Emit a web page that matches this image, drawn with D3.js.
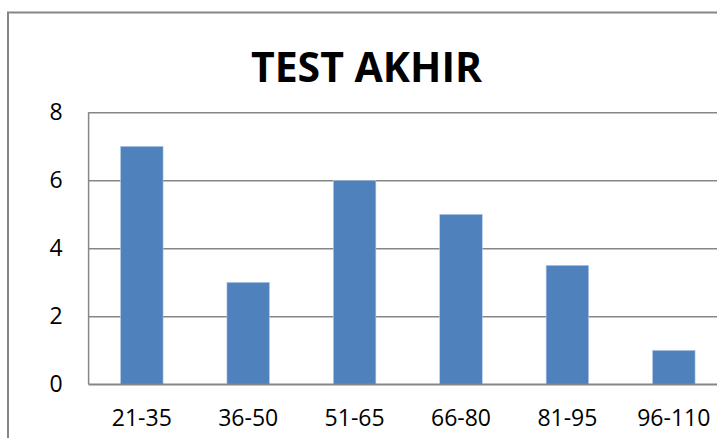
<!DOCTYPE html>
<html>
<head>
<meta charset="utf-8">
<script src="https://cdn.jsdelivr.net/npm/d3@7"></script>
<style>
  html, body { margin: 0; padding: 0; background: #fff; overflow: hidden; }
  svg { display: block; font-family: "Open Sans", sans-serif; }
</style>
</head>
<body>
<svg id="chart"></svg>
<script>
// data
const categories = ["21-35", "36-50", "51-65", "66-80", "81-95", "96-110"];
const values = [7, 3, 6, 5, 3.5, 1];
const yTicks = [0, 2, 4, 6, 8];
const title = "TEST AKHIR";

const width = 717, height = 438;
// plot area runs past the right edge of the window, like the reference
const plot = { left: 88.6, top: 112.3, right: 727, bottom: 384.3 };

const svg = d3.select("#chart")
  .attr("width", width)
  .attr("height", height);

// outer chart frame
svg.append("rect")
  .attr("x", 8)
  .attr("y", 12.5)
  .attr("width", 760)
  .attr("height", 500)
  .attr("fill", "#fff")
  .attr("stroke", "#868686")
  .attr("stroke-width", 2);

const xScale = d3.scaleBand()
  .domain(categories)
  .range([plot.left, plot.right])
  .paddingInner(0.6)
  .paddingOuter(0.3);

const yScale = d3.scaleLinear()
  .domain([0, 8])
  .range([plot.bottom, plot.top]);

// gridlines
const grid = svg.append("g")
  .attr("transform", `translate(${plot.left},0)`)
  .call(d3.axisLeft(yScale).tickValues(yTicks).tickSize(-(plot.right - plot.left)).tickFormat(""));
grid.select(".domain").remove();
grid.selectAll(".tick line")
  .attr("stroke", "#868686")
  .attr("stroke-width", 1.5);

// plot border (left side)
svg.append("line")
  .attr("x1", plot.left).attr("x2", plot.left)
  .attr("y1", plot.top).attr("y2", plot.bottom)
  .attr("stroke", "#868686")
  .attr("stroke-width", 1.5);

// bars
svg.selectAll(".bar")
  .data(values)
  .enter()
  .append("rect")
  .attr("class", "bar")
  .attr("x", (d, i) => xScale(categories[i]))
  .attr("y", d => yScale(d))
  .attr("width", xScale.bandwidth())
  .attr("height", d => yScale(0) - yScale(d))
  .attr("fill", "#4f81bd")
  .attr("stroke", "#b9cde5")
  .attr("stroke-width", 0.6);

// axis line at zero
svg.append("line")
  .attr("x1", plot.left).attr("x2", plot.right)
  .attr("y1", yScale(0)).attr("y2", yScale(0))
  .attr("stroke", "#868686")
  .attr("stroke-width", 1.5);

// y axis labels
const yAxisG = svg.append("g")
  .attr("transform", `translate(${plot.left},0)`)
  .call(d3.axisLeft(yScale).tickValues(yTicks).tickSize(0).tickPadding(26));
yAxisG.select(".domain").remove();
yAxisG.selectAll(".tick text")
  .attr("font-family", "Open Sans, sans-serif")
  .attr("font-size", "23px")
  .attr("fill", "#000");

// x axis labels
const xAxisG = svg.append("g")
  .attr("transform", `translate(0,${plot.bottom})`)
  .call(d3.axisBottom(xScale).tickSize(0).tickPadding(25));
xAxisG.select(".domain").remove();
xAxisG.selectAll(".tick text")
  .attr("font-family", "Open Sans, sans-serif")
  .attr("font-size", "23px")
  .attr("fill", "#000");

// title
svg.append("text")
  .attr("x", 366.5)
  .attr("y", 82)
  .attr("text-anchor", "middle")
  .attr("font-family", "Open Sans, sans-serif")
  .attr("font-weight", "bold")
  .attr("font-size", "41px")
  .attr("fill", "#000")
  .text(title);
</script>
</body>
</html>
